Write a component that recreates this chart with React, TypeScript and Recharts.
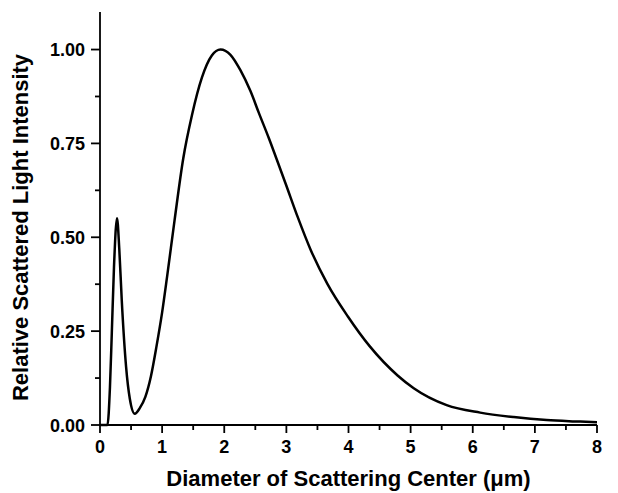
import { LineChart, Line, XAxis, YAxis, Label } from 'recharts';

// curve: diameter (µm) vs relative intensity
const diameter = [
  0, 0.12, 0.16, 0.19, 0.225, 0.274, 0.31, 0.35, 0.42, 0.48, 0.56, 0.64, 0.73, 0.82, 0.91, 1.0,
  1.08, 1.2, 1.34, 1.48, 1.64, 1.8, 1.94, 2.1, 2.26, 2.42, 2.56, 2.72, 2.85, 2.99, 3.18, 3.39, 3.66,
  3.99, 4.34, 4.79, 5.05, 5.58, 6.12, 6.66, 7.19, 7.73, 8.0,
];
const intensity = [
  0, 0, 0.1, 0.245, 0.42, 0.551, 0.47, 0.333, 0.155, 0.07, 0.03, 0.045, 0.075, 0.13, 0.21, 0.3,
  0.395, 0.545, 0.71, 0.825, 0.925, 0.984, 1.0, 0.986, 0.945, 0.89, 0.83, 0.763, 0.705, 0.642, 0.555, 0.467, 0.376,
  0.289, 0.21, 0.132, 0.098, 0.053, 0.033, 0.021, 0.013, 0.009, 0.007,
];

const xTicks = [0, 0.5, 1, 1.5, 2, 2.5, 3, 3.5, 4, 4.5, 5, 5.5, 6, 6.5, 7, 7.5, 8];
const yTicks = [0, 0.125, 0.25, 0.375, 0.5, 0.625, 0.75, 0.875, 1.0];

const data = diameter.map((d, i) => ({ x: d, y: intensity[i] }));

const FONT = '"Liberation Sans", Arial, Helvetica, sans-serif';

const XTick = ({ x, y, payload }: any) => {
  const major = Number.isInteger(payload.value);
  return (
    <g>
      <line x1={x} x2={x} y1={y} y2={y + (major ? 8 : 5)} stroke="#000" strokeWidth={1.8} />
      {major && (
        <text x={x} y={y + 28} textAnchor="middle" fontFamily={FONT} fontWeight="bold" fontSize={18} fill="#000">
          {payload.value}
        </text>
      )}
    </g>
  );
};

const YTick = ({ x, y, payload }: any) => {
  const major = Math.abs((payload.value * 4) % 1) < 1e-6;
  return (
    <g>
      <line x1={x - (major ? 9 : 5)} x2={x} y1={y} y2={y} stroke="#000" strokeWidth={1.8} />
      {major && (
        <text x={x - 15} y={y + 6.5} textAnchor="end" fontFamily={FONT} fontWeight="bold" fontSize={18} fill="#000">
          {payload.value.toFixed(2)}
        </text>
      )}
    </g>
  );
};

const YTitle = ({ viewBox }: any) => {
  const cx = viewBox.x + 20;
  const cy = viewBox.y + viewBox.height / 2 + 9;
  return (
    <text
      x={cx}
      y={cy}
      transform={`rotate(-90, ${cx}, ${cy})`}
      textAnchor="middle"
      dominantBaseline="central"
      fontFamily={FONT}
      fontWeight="bold"
      fontSize={22}
      fill="#000"
    >
      Relative Scattered Light Intensity
    </text>
  );
};

export default function App() {
  return (
    <div style={{ position: 'absolute', left: 0, top: 0, background: '#fff' }}>
      <LineChart width={618} height={493} data={data} margin={{ top: 12, right: 21, bottom: 0, left: 0 }}>
        <XAxis
          type="number"
          dataKey="x"
          domain={[0, 8]}
          ticks={xTicks}
          interval={0}
          height={68}
          tickSize={0}
          tickMargin={0}
          tickLine={false}
          tick={<XTick />}
          axisLine={{ stroke: '#000', strokeWidth: 1.8 }}
        >
          <Label
            value="Diameter of Scattering Center (μm)"
            position="insideBottom"
            offset={7}
            style={{ fontFamily: FONT, fontWeight: 'bold', fontSize: 22, fill: '#000' }}
          />
        </XAxis>
        <YAxis
          type="number"
          domain={[0, 1.1]}
          ticks={yTicks}
          interval={0}
          width={100}
          tickSize={0}
          tickMargin={0}
          tickLine={false}
          tick={<YTick />}
          axisLine={{ stroke: '#000', strokeWidth: 1.8 }}
        >
          <Label content={<YTitle />} />
        </YAxis>
        <Line
          type="monotone"
          dataKey="y"
          stroke="#000"
          strokeWidth={2.5}
          dot={false}
          isAnimationActive={false}
        />
      </LineChart>
    </div>
  );
}
